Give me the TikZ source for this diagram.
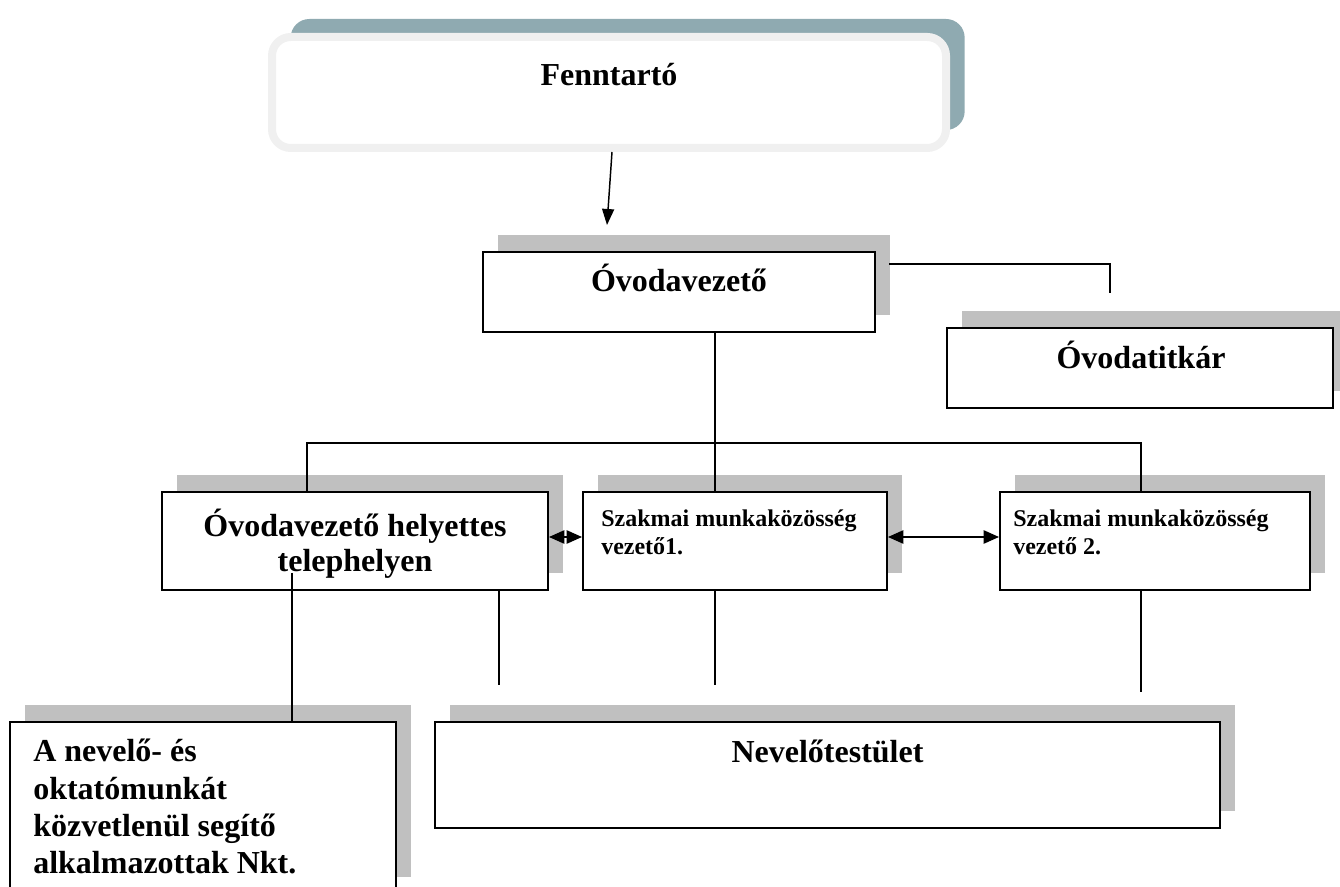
\documentclass[tikz,border=0pt]{standalone}
\usepackage{fontspec}
\setmainfont{Liberation Serif}
\usetikzlibrary{arrows.meta,shadows}
\definecolor{shgray}{RGB}{192,192,192}
\definecolor{tealsh}{RGB}{143,170,177}
\definecolor{fbord}{RGB}{240,240,240}
\tikzset{
  box/.style={draw=black, line width=1.5pt, fill=white, rectangle, inner sep=0pt,
    general shadow={fill=shgray, shadow xshift=11.25pt, shadow yshift=12.75pt}},
  fennbox/.style={draw=fbord, line width=6pt, fill=white, rectangle, rounded corners=14pt, inner sep=0pt,
    general shadow={fill=tealsh, shadow xshift=14pt, shadow yshift=13.5pt}},
  bigtxt/.style={font=\bfseries\fontsize{24}{27.6}\selectfont, inner sep=0pt},
  smalltxt/.style={font=\bfseries\fontsize{18}{20.7}\selectfont, inner sep=0pt},
  conn/.style={line width=1.1pt},
  arr/.style={conn, -{Triangle[length=12pt,width=9pt]}},
  darr/.style={conn, {Triangle[length=11.5pt,width=10pt]}-{Triangle[length=11.5pt,width=10pt]}},
}
\begin{document}
\begin{tikzpicture}[x=0.75pt,y=-0.75pt]
\useasboundingbox (0,0) rectangle (1340,887);
\clip (0,0) rectangle (1340,887);
% boxes
\node[fennbox, minimum width={674*0.75pt}, minimum height={111*0.75pt}] (fenn) at (609,92.5) {};
\node[box, minimum width={392*0.75pt}, minimum height={80*0.75pt}] (ov) at (679,292) {};
\node[box, minimum width={386*0.75pt}, minimum height={80*0.75pt}] (tk) at (1140,368) {};
\node[box, minimum width={386*0.75pt}, minimum height={98*0.75pt}] (hel) at (355,541) {};
\node[box, minimum width={304*0.75pt}, minimum height={98*0.75pt}] (sz1) at (735,541) {};
\node[box, minimum width={310*0.75pt}, minimum height={98*0.75pt}] (sz2) at (1155,541) {};
\node[box, minimum width={386*0.75pt}, minimum height={172*0.75pt}] (nkt) at (203,808) {};
\node[box, minimum width={785*0.75pt}, minimum height={106*0.75pt}] (nev) at (827.5,775) {};
% texts
\node[bigtxt, anchor=base] (tfenn) at (609,86) {Fenntartó};
\node[bigtxt, anchor=base] (tov) at (679,292) {Óvodavezető};
\node[bigtxt, anchor=base] (ttk) at (1141,369) {Óvodatitkár};
\node[bigtxt, anchor=base] (thel1) at (355,537) {Óvodavezető helyettes};
\node[bigtxt, anchor=base] (thel2) at (355,572) {telephelyen};
\node[smalltxt, anchor=base west] (tsz1a) at (601,527) {Szakmai munkaközösség};
\node[smalltxt, anchor=base west] (tsz1b) at (601,555) {vezető1.};
\node[smalltxt, anchor=base west] (tsz2a) at (1013,527) {Szakmai munkaközösség};
\node[smalltxt, anchor=base west] (tsz2b) at (1013,555) {vezető 2.};
\node[bigtxt, anchor=base west] (tnkt1) at (33,762) {A nevelő- és};
\node[bigtxt, anchor=base west] (tnkt2) at (33,799) {oktatómunkát};
\node[bigtxt, anchor=base west] (tnkt3) at (33,836) {közvetlenül segítő};
\node[bigtxt, anchor=base west] (tnkt4) at (33,873) {alkalmazottak Nkt.};
\node[bigtxt, anchor=base] (tnev) at (827.5,763) {Nevelőtestület};
% connector coordinates
\coordinate (arrEnd) at (607,225);
\coordinate (tkEnd) at (1110,293);
\coordinate (busL) at (307,443);
\coordinate (busM) at (715,443);
\coordinate (busR) at (1141,443);
\coordinate (d1) at (499,685);
\coordinate (d2) at (715,685);
\coordinate (d3) at (1141,692);
\coordinate (helIn) at (292,573);
% connectors
\draw[arr] ([xshift=2.25pt]fenn.south) -- (arrEnd);
\draw[conn] ([shift={(13,13)}]ov.north east) -| (tkEnd);
\draw[conn] (busM |- ov.south) -- (busM |- sz1.north);
\draw[conn] (busL |- hel.north) -- (busL) -- (busR) -- (busR |- sz2.north);
\draw[darr] ([yshift=3pt]hel.east) -- ([yshift=3pt]sz1.west);
\draw[darr] ([yshift=3pt]sz1.east) -- ([yshift=3pt]sz2.west);
\draw[conn] (helIn) -- (helIn |- nkt.north);
\draw[conn] (d1 |- hel.south) -- (d1);
\draw[conn] (d2 |- sz1.south) -- (d2);
\draw[conn] (d3 |- sz2.south) -- (d3);
\end{tikzpicture}
\end{document}
